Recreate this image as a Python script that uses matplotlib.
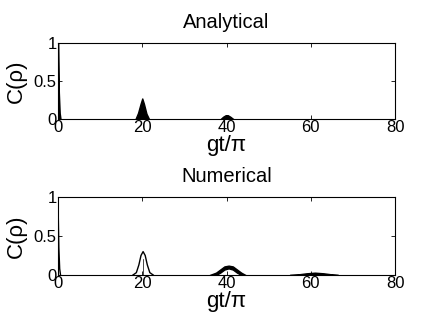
import matplotlib
matplotlib.use("Agg")
import matplotlib.pyplot as plt

plt.rcParams["font.family"] = ["Liberation Sans", "DejaVu Sans"]

# Analytical: envelope points of filled regions (gt/pi, C)
ana_spike_x = [0.0, 0.05, 0.2, 0.4, 0.6]
ana_spike_y = [1.0, 0.8, 0.35, 0.08, 0.0]
ana_rev1_x = [18.4, 19.0, 19.6, 20.0, 20.4, 21.0, 21.6]
ana_rev1_y = [0.0, 0.08, 0.2, 0.27, 0.2, 0.07, 0.0]
ana_rev2_x = [38.6, 39.2, 39.8, 40.3, 40.9, 41.6]
ana_rev2_y = [0.0, 0.03, 0.05, 0.05, 0.03, 0.0]

# Numerical: outline peak at 20, bands at 40 and 60
num_spike_x = [0.0, 0.05, 0.2, 0.4, 0.6]
num_spike_y = [1.0, 0.8, 0.35, 0.08, 0.0]
num_rev1_x = [17.8, 18.6, 19.2, 19.7, 20.2, 20.7, 21.2, 21.8, 22.6]
num_rev1_y = [0.0, 0.03, 0.13, 0.25, 0.3, 0.25, 0.13, 0.03, 0.0]
num_rev2_x = [36.0, 37.5, 38.5, 39.5, 40.5, 41.5, 42.5, 43.5, 44.5]
num_rev2_hi = [0.0, 0.03, 0.07, 0.11, 0.12, 0.11, 0.07, 0.03, 0.0]
num_rev2_lo = [0.0, 0.0, 0.03, 0.07, 0.085, 0.07, 0.03, 0.0, 0.0]
num_rev3_x = [55.0, 57.0, 59.0, 61.0, 63.0, 65.0, 66.5]
num_rev3_hi = [0.0, 0.008, 0.022, 0.03, 0.022, 0.008, 0.0]
num_rev3_lo = [0.0, 0.0, 0.008, 0.014, 0.008, 0.0, 0.0]

fig = plt.figure(figsize=(4.36, 3.28), dpi=100)
ax1 = fig.add_axes([58 / 436, 1 - 119 / 328, 337 / 436, 76 / 328])
ax2 = fig.add_axes([58 / 436, 1 - 275 / 328, 337 / 436, 78 / 328])

ax1.fill_between(ana_spike_x, ana_spike_y, color="black", lw=1)
ax1.fill_between(ana_rev1_x, ana_rev1_y, color="black", lw=1)
ax1.fill_between(ana_rev2_x, ana_rev2_y, color="black", lw=1)
ax1.set_title("Analytical", fontsize=14.5, pad=11)

ax2.plot(num_spike_x, num_spike_y, color="black", lw=1)
ax2.plot(num_rev1_x, num_rev1_y, color="black", lw=1)
ax2.plot([20.2, 20.2], [0, 0.2], color="black", lw=0.5)
ax2.fill_between(num_rev2_x, num_rev2_lo, num_rev2_hi, color="black", lw=1)
ax2.fill_between(num_rev3_x, num_rev3_lo, num_rev3_hi, color="black", lw=1)
ax2.set_title("Numerical", fontsize=14.5, pad=11)

for ax in (ax1, ax2):
    ax.set_xlim(0, 80)
    ax.set_ylim(0, 1)
    ax.set_xticks([0, 20, 40, 60, 80])
    ax.set_yticks([0, 0.5, 1])
    ax.set_yticklabels(["0", "0.5", "1"])
    ax.tick_params(direction="in", top=True, right=True, labelsize=12,
                   length=3, width=0.6, pad=1)
    ax.set_xlabel("gt/\u03c0", fontsize=16, labelpad=0)
    ax.set_ylabel("C(\u03c1)", fontsize=16, labelpad=5)
    for s in ax.spines.values():
        s.set_linewidth(0.8)

fig.savefig("out.png", dpi=100)
